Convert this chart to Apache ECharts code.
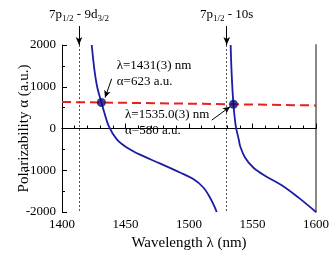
<!DOCTYPE html>
<html>
<head>
<meta charset="utf-8">
<script src="https://cdn.jsdelivr.net/npm/echarts@6/dist/echarts.min.js"></script>
<style>html,body{margin:0;padding:0;background:#fff}#c{width:330px;height:255px}</style>
</head>
<body>
<div id="c"></div>
<script>
// ---- data ----
const xMin = 1400, xMax = 1600, xInterval = 50;
const yMin = -2000, yMax = 2000, yInterval = 1000;
const xName = 'Wavelength λ (nm)';
const yName = 'Polarizability α (a.u.)';

// branch between the two resonances
const leftBranch = [
  [1423.4, 2000], [1424.7, 1621], [1426.0, 1303], [1427.8, 982], [1431.0, 623],
  [1433.3, 383], [1437.0, 45], [1443.0, -254], [1451.0, -455], [1461.4, -627],
  [1477.0, -834], [1492.9, -1053], [1503.4, -1212], [1511.3, -1413],
  [1516.5, -1652], [1520.5, -1900], [1521.8, -2000]
];
// branch above the 7p1/2-10s resonance
const rightBranch = [
  [1532.8, 2000], [1533.6, 1303], [1535.0, 580], [1536.8, 65], [1539.4, -294],
  [1540.2, -414], [1544.1, -694], [1550.6, -934], [1559.8, -1133],
  [1573.0, -1360], [1586.0, -1650], [1600.0, -2000]
];
// dashed (red) reference line
const refLine = [[1400, 636], [1600, 553]];

// magic wavelengths (crossing points)
const magicLambda = [1431, 1535.0];
const magicAlpha = [623, 580];
const magicText = [
  'λ=1431(3) nm\nα=623 a.u.',
  'λ=1535.0(3) nm\nα=580 a.u.'
];
const magicTextAt = [[1443.1, 1322], [1449.6, 137]];
const magicArrowFrom = [[1439.1, 1190], [1517.9, 201]];
const magicArrowTo = [[1433.9, 742], [1532.3, 520]];

// resonances
const resonanceLambda = [1413.4, 1529.7];
const resonanceLabel = ['7p{s|1/2} - 9d{s|3/2}', '7p{s|1/2} - 10s'];

// ---- chart ----
const FONT = 'Liberation Serif';
const chart = echarts.init(document.getElementById('c'), null, {renderer: 'canvas'});

const dotLines = [];
resonanceLambda.forEach((x) => {
  dotLines.push([
    {coord: [x, yMax], symbol: 'none', lineStyle: {type: [2, 2], color: '#555', width: 1}},
    {coord: [x, yMin], symbol: 'none'}
  ]);
});
magicArrowFrom.forEach((p, i) => {
  dotLines.push([
    {coord: p, symbol: 'none', lineStyle: {type: 'solid', color: '#000', width: 1}},
    {coord: magicArrowTo[i], symbol: 'arrow', symbolSize: [5, 7]}
  ]);
});
// top annotation strip (separate grid above the plot, 0 = plot top, 1 = page top)
const topArrows = resonanceLambda.map((x, i) => ([
  {coord: [x, 0.42], symbol: 'none', lineStyle: {type: 'solid', color: '#000', width: 1},
   label: {show: true, position: 'start', distance: 3, formatter: resonanceLabel[i],
     fontFamily: FONT, fontSize: 13, color: '#000', lineHeight: 18,
     rich: {s: {fontFamily: FONT, fontSize: 9, verticalAlign: 'bottom', lineHeight: 10, color: '#000'}}}},
  {coord: [x, 0], symbol: 'arrow', symbolSize: [5, 8]}
]));

const plain = v => String(v);

const option = {
  animation: false,
  backgroundColor: '#fff',
  grid: [
    {left: 62, right: 14, top: 45, bottom: 43, containLabel: false, outerBoundsMode: 'none'},
    {left: 62, right: 14, top: 0, height: 45, containLabel: false, outerBoundsMode: 'none'}
  ],
  xAxis: [{
    type: 'value', min: xMin, max: xMax, interval: xInterval,
    name: xName, nameLocation: 'middle', nameGap: 24, nameMoveOverlap: false,
    nameTextStyle: {fontFamily: FONT, fontSize: 15, color: '#000'},
    axisLine: {lineStyle: {color: '#000', width: 1}},
    axisTick: {inside: true, length: 5, lineStyle: {color: '#000'}},
    minorTick: {show: true, splitNumber: 5, length: 3, lineStyle: {color: '#000'}},
    splitLine: {show: false},
    axisLabel: {margin: 6, fontFamily: FONT, fontSize: 13, color: '#000', formatter: plain}
  }, {
    type: 'value', min: xMin, max: xMax, position: 'top',
    axisLine: {lineStyle: {color: '#000', width: 1}},
    axisTick: {show: false}, axisLabel: {show: false}, splitLine: {show: false}
  }, {
    type: 'value', gridIndex: 1, min: xMin, max: xMax, show: false
  }],
  yAxis: [{
    type: 'value', min: yMin, max: yMax, interval: yInterval,
    name: yName, nameLocation: 'middle', nameGap: 30, nameMoveOverlap: false,
    nameTextStyle: {fontFamily: FONT, fontSize: 15, color: '#000'},
    axisLine: {show: true, lineStyle: {color: '#000', width: 1}},
    axisTick: {show: true, inside: true, length: 5, lineStyle: {color: '#000'}},
    minorTick: {show: true, splitNumber: 2, length: 3, lineStyle: {color: '#000'}},
    splitLine: {show: false},
    axisLabel: {margin: 6, fontFamily: FONT, fontSize: 13, color: '#000', formatter: plain}
  }, {
    type: 'value', min: yMin, max: yMax, position: 'right',
    axisLine: {show: true, lineStyle: {color: '#888', width: 2}},
    axisTick: {show: false}, axisLabel: {show: false}, splitLine: {show: false}
  }, {
    type: 'value', gridIndex: 1, min: 0, max: 1, show: false
  }],
  series: [
    {
      type: 'line', data: refLine, symbol: 'none', z: 2,
      lineStyle: {color: '#e8201e', width: 2, type: [9, 5]}
    },
    {
      type: 'line', data: leftBranch, symbol: 'none', smooth: 0.35, z: 3,
      lineStyle: {color: '#1c1ca6', width: 1.8}
    },
    {
      type: 'line', data: rightBranch, symbol: 'none', smooth: 0.35, z: 3,
      lineStyle: {color: '#1c1ca6', width: 1.8}
    },
    {
      type: 'scatter', z: 5, symbolSize: 9,
      data: magicLambda.map((x, i) => [x, magicAlpha[i]]),
      itemStyle: {color: '#0b0b78'}
    },
    {
      type: 'line', data: [], z: 4,
      markLine: {silent: true, animation: false, data: dotLines, label: {show: false}},
      markPoint: {
        silent: true, animation: false,
        data: magicTextAt.map((p, i) => ({
          coord: p, symbol: 'circle', symbolSize: 0,
          label: {show: true, position: 'right', distance: 0, formatter: magicText[i],
            align: 'left', verticalAlign: 'middle',
            fontFamily: FONT, fontSize: 13, lineHeight: 16, color: '#000'}
        }))
      }
    },
    {
      type: 'line', data: [], xAxisIndex: 2, yAxisIndex: 2, z: 4,
      markLine: {silent: true, animation: false, data: topArrows, label: {show: false}}
    }
  ]
};
chart.setOption(option);
</script>
</body>
</html>
